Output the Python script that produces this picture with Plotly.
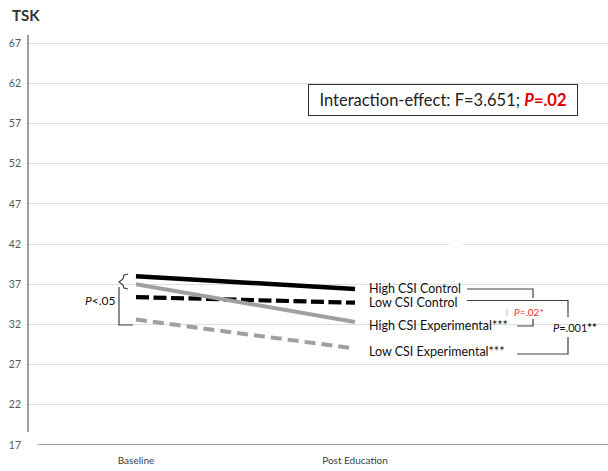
import plotly.graph_objects as go

# ---------------- data ----------------
categories = ["Baseline", "Post Education"]
high_csi_control = [38.0, 36.4]
low_csi_control = [35.4, 34.7]
high_csi_experimental = [37.0, 32.3]
low_csi_experimental = [32.6, 29.0]
y_ticks = [17, 22, 27, 32, 37, 42, 47, 52, 57, 62, 67]

series_names = ["High CSI Control", "Low CSI Control",
                "High CSI Experimental***", "Low CSI Experimental***"]

# ---------------- layout constants ----------------
W, H = 608, 471
ML, MR, MT, MB = 28, 0, 35, 26
PW, PH = W - ML - MR, H - MT - MB
X0_PX, X1_PX = 136, 355
unit = (X1_PX - X0_PX) / PW
XMIN = -((X0_PX - ML) / PW) / unit
XMAX = XMIN + 1 / unit
YMIN, YMAX = 17, 68


def px_x(p):
    return XMIN + (p - ML) / PW * (XMAX - XMIN)


def px_y(p):
    return YMAX - (p - MT) / PH * (YMAX - YMIN)


xs = list(range(len(categories)))
fig = go.Figure()

styles = [
    dict(color="#000000", width=4.5, dash="solid"),
    dict(color="#000000", width=4.2, dash="13px,4.5px"),
    dict(color="#a0a0a0", width=4, dash="solid"),
    dict(color="#a0a0a0", width=4, dash="11px,6px"),
]
all_series = [high_csi_control, low_csi_control,
              high_csi_experimental, low_csi_experimental]
for name, vals, st in zip(series_names, all_series, styles):
    fig.add_trace(go.Scatter(x=xs, y=vals, mode="lines", name=name,
                             line=st, showlegend=False, hoverinfo="skip"))

FONT = "Lato, 'Open Sans', sans-serif"

annotations = []
# series labels right of lines
label_px_y = [288, 302, 325, 351]
for name, ypx in zip(series_names, label_px_y):
    annotations.append(dict(x=1, y=px_y(ypx), xref="x", yref="y", text=name,
                            showarrow=False, xanchor="left", yanchor="middle",
                            xshift=12, font=dict(family=FONT, size=12.5, color="#111111")))

annotations += [
    dict(x=px_x(100), y=px_y(300), xref="x", yref="y", text="<i>P</i>&lt;.05",
         showarrow=False, font=dict(family=FONT, size=12, color="#111111")),
    dict(x=px_x(529), y=px_y(312), xref="x", yref="y", text="<i>P</i>=.02*",
         showarrow=False, font=dict(family=FONT, size=10, color="#e03030")),
    dict(x=px_x(575), y=px_y(327), xref="x", yref="y", text="<i>P</i>=.001<b>**</b>",
         showarrow=False, font=dict(family=FONT, size=11, color="#111111")),
    dict(x=px_x(443), y=px_y(100), xref="x", yref="y",
         text="Interaction-effect: F=3.651; <span style='color:#e00000'><b><i>P</i>=.02</b></span>",
         showarrow=False, bordercolor="#333333", borderwidth=1, borderpad=3,
         bgcolor="white", width=262, height=24,
         font=dict(family=FONT, size=16.5, color="#222222")),
]

LC = dict(color="#404040", width=1.2)


def path(points):
    s = "M " + " L ".join(f"{px_x(a)},{px_y(b)}" for a, b in points)
    return s


shapes = [
    # y axis line
    dict(type="line", xref="paper", yref="y", x0=0, x1=0, y0=px_y(432), y1=YMAX,
         line=dict(color="#7f7f7f", width=1.5)),
    # x axis line
    dict(type="line", xref="x", yref="y", x0=px_x(38), x1=XMAX, y0=YMIN, y1=YMIN,
         line=dict(color="#7f7f7f", width=1.5)),
    # gap in 42 gridline
    dict(type="rect", xref="x", yref="y", x0=px_x(449), x1=px_x(463),
         y0=42 - 0.2, y1=42 + 0.2, fillcolor="white", line=dict(width=0), layer="above"),
    # right brackets
    dict(type="path", xref="x", yref="y", path=path([(467, 289), (533, 289), (533, 298)]), line=LC),
    dict(type="path", xref="x", yref="y", path=path([(467, 300.5), (568, 300.5), (568, 317)]), line=LC),
    dict(type="path", xref="x", yref="y", path=path([(517, 326), (533, 326), (533, 319)]), line=LC),
    dict(type="path", xref="x", yref="y", path=path([(517, 354), (568, 354), (568, 337)]), line=LC),
    # small red mark
    dict(type="line", xref="x", yref="y", x0=px_x(507), x1=px_x(507), y0=px_y(309), y1=px_y(316),
         line=dict(color="#f0a0a0", width=1)),
    # left brace
    dict(type="path", xref="x", yref="y",
         path=path([(128, 274), (124, 275), (123, 279), (119, 282), (123, 285), (124, 288), (128, 289)]),
         line=LC),
    # left bracket
    dict(type="path", xref="x", yref="y", path=path([(119, 287), (119, 325), (133, 325)]), line=LC),
]

fig.update_layout(
    width=W, height=H,
    margin=dict(l=ML, r=MR, t=MT, b=MB),
    paper_bgcolor="white", plot_bgcolor="white",
    title=dict(text="<b>TSK</b>", x=12 / W, xref="container", xanchor="left",
               y=1 - 16 / H, yref="container", yanchor="middle",
               font=dict(family=FONT, size=15, color="#333333")),
    xaxis=dict(range=[XMIN, XMAX], tickvals=xs, ticktext=categories,
               showgrid=False, zeroline=False, showline=False, ticks="",
               ticklabelstandoff=8,
               tickfont=dict(family=FONT, size=10, color="#404040")),
    yaxis=dict(range=[YMIN, YMAX], tickvals=y_ticks, showgrid=True,
               gridcolor="#dedede", gridwidth=1, zeroline=False, showline=False,
               ticks="", ticklabelstandoff=6,
               tickfont=dict(family=FONT, size=10.5, color="#595959")),
    annotations=annotations,
    shapes=shapes,
)

fig.write_html("out.html")
